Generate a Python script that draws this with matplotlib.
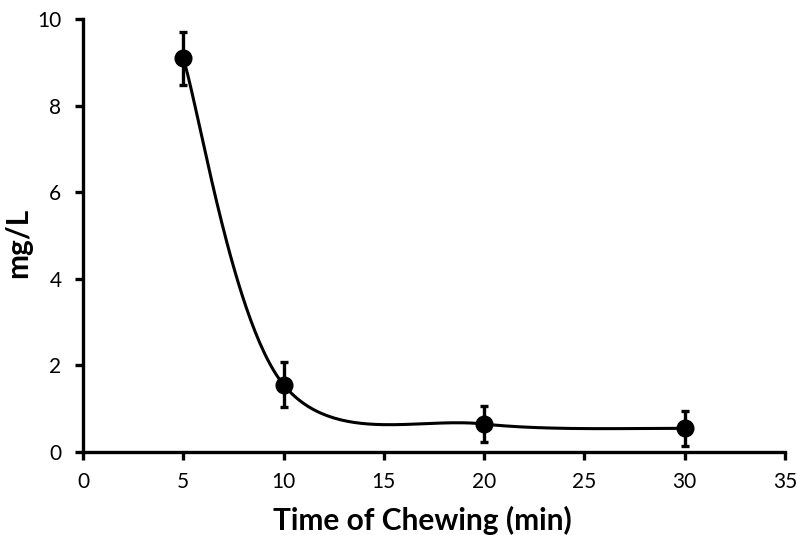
import numpy as np
import matplotlib
matplotlib.use("Agg")
import matplotlib.pyplot as plt

plt.rcParams['font.family'] = ['Lato', 'DejaVu Sans']

time_min = [5, 10, 20, 30]
conc = [9.1, 1.55, 0.64, 0.54]
err = [0.61, 0.52, 0.41, 0.41]
x_ticks = [0, 5, 10, 15, 20, 25, 30, 35]
y_ticks = [0, 2, 4, 6, 8, 10]


def excel_smooth(xs, ys, n=60):
    xs = np.asarray(xs, float)
    ys = np.asarray(ys, float)
    px = np.concatenate([[xs[0]], xs, [xs[-1]]])
    py = np.concatenate([[ys[0]], ys, [ys[-1]]])
    outx, outy = [], []
    t = np.linspace(0, 1, n)
    for i in range(1, len(px) - 2):
        p0 = np.array([px[i], py[i]])
        p3 = np.array([px[i + 1], py[i + 1]])
        c1 = p0 + (np.array([px[i + 1], py[i + 1]]) - np.array([px[i - 1], py[i - 1]])) / 6
        c2 = p3 - (np.array([px[i + 2], py[i + 2]]) - np.array([px[i], py[i]])) / 6
        b = ((1 - t) ** 3)[:, None] * p0 + (3 * (1 - t) ** 2 * t)[:, None] * c1 \
            + (3 * (1 - t) * t ** 2)[:, None] * c2 + (t ** 3)[:, None] * p3
        outx.extend(b[:, 0])
        outy.extend(b[:, 1])
    return np.array(outx), np.array(outy)


fig = plt.figure(figsize=(7.97, 5.35), dpi=100)
ax = fig.add_axes([0.1041, 0.1557, 0.8809, 0.808])

sx, sy = excel_smooth(time_min, conc)
ax.plot(sx, sy, color='black', lw=2.2, zorder=2)
ax.errorbar(time_min, conc, yerr=err, fmt='o', color='black', ms=12,
            elinewidth=2.4, capsize=3, capthick=2.4, zorder=3)

ax.set_xlim(0, 35)
ax.set_ylim(0, 10)
ax.set_xticks(x_ticks)
ax.set_yticks(y_ticks)
for s in ['top', 'right']:
    ax.spines[s].set_visible(False)
for s in ['left', 'bottom']:
    ax.spines[s].set_linewidth(2.4)
ax.tick_params(axis='both', direction='out', length=5.5, width=2.4,
               labelsize=15, colors='black')
ax.tick_params(axis='x', pad=9)
ax.tick_params(axis='y', pad=10)
ax.set_xlabel('Time of Chewing (min)', fontsize=21.5, fontweight='bold')
ax.set_ylabel('mg/L', fontsize=21.5, fontweight='bold')
ax.xaxis.set_label_coords(0.484, -0.125)
ax.yaxis.set_label_coords(-0.073, 0.483)

fig.savefig('out.png', dpi=100)
